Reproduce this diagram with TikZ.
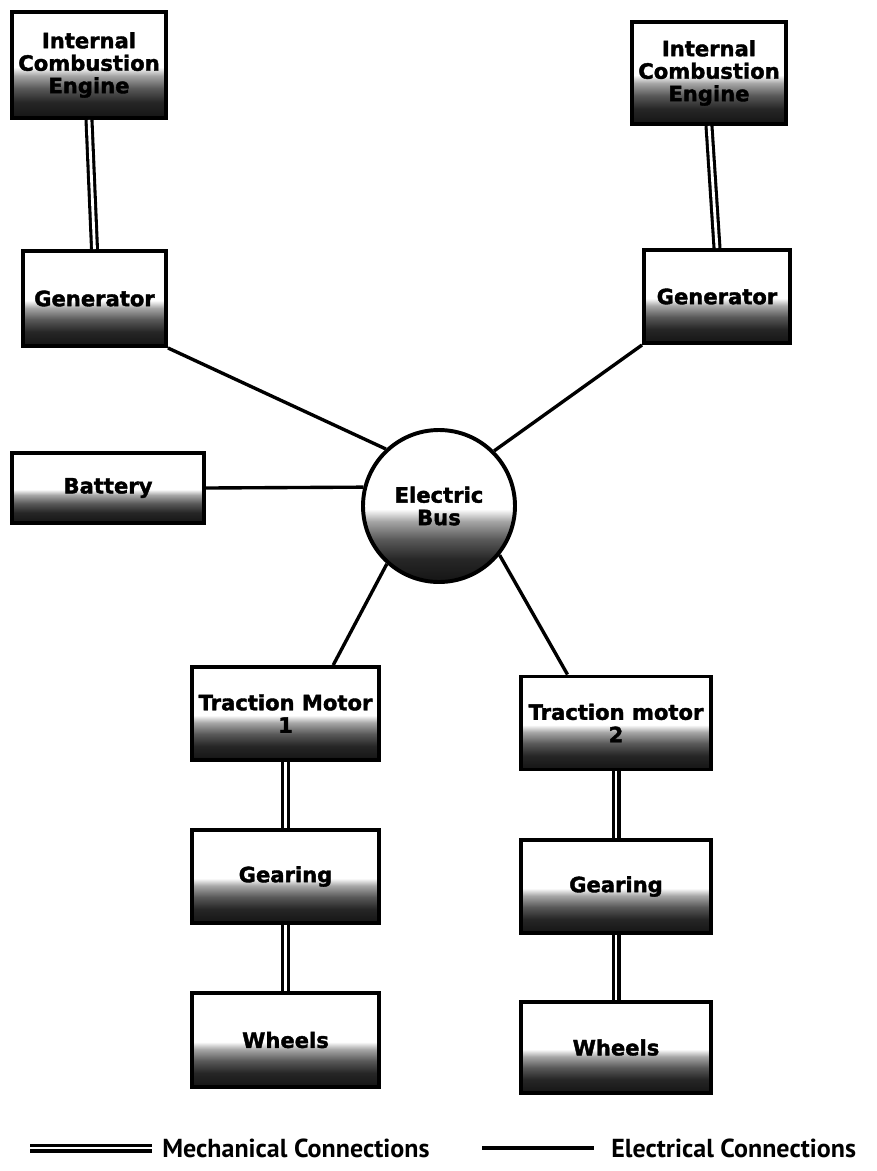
\documentclass[tikz,border=0pt]{standalone}
\usepackage{fontspec}
\usetikzlibrary{calc}
\newfontfamily\boxfont[BoldFeatures={FakeBold=1.8}]{DejaVu Sans}
\newfontfamily\keyfont{PT Sans}
\pgfdeclareverticalshading{boxfade}{100bp}{color(0bp)=(black!92); color(25bp)=(black!92); color(32.5bp)=(black!85); color(39bp)=(black!65); color(45bp)=(black!35); color(49bp)=(white); color(100bp)=(white)}

\begin{document}
\begin{tikzpicture}[x=0.025cm,y=-0.025cm,
    unit/.style={draw,line width=2.8pt,shading=boxfade,align=center,inner sep=0pt,
      font=\boxfont\bfseries\fontsize{15}{16}\selectfont},
    boxsize/.style 2 args={minimum width=#1*0.025cm,minimum height=#2*0.025cm},
    elec/.style={line width=2.4pt},
    mech/.style={line width=2.2pt,double,double distance=2pt},
    key/.style={anchor=west,inner sep=0pt,font=\keyfont\bfseries\fontsize{18.5}{20}\selectfont}]
  \useasboundingbox (0,0) rectangle (876,1171);

  % sources
  \node[unit,boxsize={154}{106}] (iceA) at (89,65) {Internal\\Combustion\\Engine};
  \node[unit,boxsize={154}{102}] (iceB) at (709,73) {Internal\\Combustion\\Engine};
  \node[unit,boxsize={143}{95}] (genA) at (94.5,298.5) {Generator};
  \node[unit,boxsize={146}{93}] (genB) at (717,296.5) {Generator};
  \node[unit,boxsize={192}{70}] (battery) at (108,488) {Battery};
  \node[unit,circle,minimum size=152*0.025cm] (bus) at (439,506) {Electric\\Bus};

  % drive lines
  \node[unit,boxsize={187}{93}] (tmA) at (285.5,713.5) {Traction Motor\\1};
  \node[unit,boxsize={190}{93}] (tmB) at (616,723) {Traction motor\\2};
  \node[unit,boxsize={187}{93}] (gearA) at (285.5,876.5) {Gearing};
  \node[unit,boxsize={190}{93}] (gearB) at (616,886.5) {Gearing};
  \node[unit,boxsize={187}{94}] (wheelA) at (285.5,1040) {Wheels};
  \node[unit,boxsize={190}{91}] (wheelB) at (616,1047.5) {Wheels};

  \draw[mech] (iceA.south) -- (genA.north);
  \draw[mech] (iceB.south) -- (genB.north);
  \foreach \a/\b in {tmA/gearA,gearA/wheelA,tmB/gearB,gearB/wheelB}
    \draw[mech] (\a) -- (\b);

  \draw[elec] (genA.south east) -- (bus.133);
  \draw[elec] (genB.south west) -- (bus.45);
  \draw[elec] (battery.east) -- (bus.166);
  \draw[elec] (bus.228) -- ($(tmA.north)!0.5!(tmA.north east)$);
  \draw[elec] (bus.321) -- ($(tmB.north)!0.5!(tmB.north west)$);

  % legend
  \coordinate (mechL) at (30,1148);
  \coordinate (mechR) at (152,1148);
  \draw[mech] (mechL) -- (mechR);
  \node[key] (mechkey) at (162,1148) {Mechanical Connections};
  \coordinate (elecL) at (482,1148);
  \coordinate (elecR) at (594,1148);
  \draw[elec] (elecL) -- (elecR);
  \node[key] (eleckey) at (611,1148) {Electrical Connections};
\end{tikzpicture}
\end{document}
